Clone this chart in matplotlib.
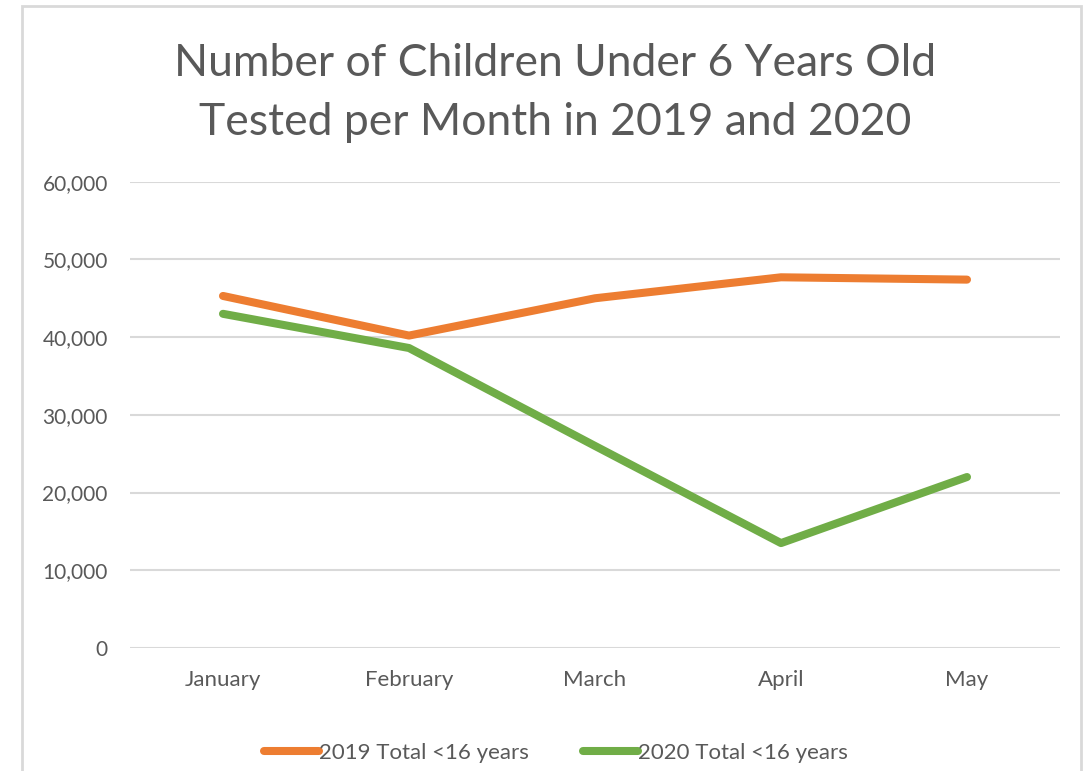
import matplotlib
matplotlib.use("Agg")
import matplotlib.pyplot as plt
from matplotlib.patches import Rectangle
from matplotlib.ticker import FuncFormatter, MultipleLocator

months = ["January", "February", "March", "April", "May"]
tested_2019 = [45300, 40200, 45000, 47700, 47400]
tested_2020 = [43000, 38600, 26000, 13500, 22000]
series_labels = ["2019 Total <16 years", "2020 Total <16 years"]
title_text = "Number of Children Under 6 Years Old\nTested per Month in 2019 and 2020"

ORANGE = "#ED7D31"
GREEN = "#70AD47"
TEXT = "#595959"
GRID = "#D9D9D9"

plt.rcParams["font.family"] = ["Lato", "DejaVu Sans"]

W, H = 1084, 771
fig = plt.figure(figsize=(W / 100, H / 100), dpi=100)
fig.patch.set_facecolor("white")

# chart-area frame (bottom edge runs past the canvas)
fig.patches.append(Rectangle((22 / W, 1 - 780 / H), (1081 - 22) / W, (780 - 6) / H,
                             transform=fig.transFigure, fill=False,
                             edgecolor=GRID, linewidth=2, zorder=0))

ax = fig.add_axes([130 / W, 1 - 648 / H, (1060 - 130) / W, (648 - 181.7) / H])
x = list(range(len(months)))
lw = 5.8
ax.plot(x, tested_2019, color=ORANGE, lw=lw, solid_capstyle="round",
        solid_joinstyle="round", label=series_labels[0], zorder=3)
ax.plot(x, tested_2020, color=GREEN, lw=lw, solid_capstyle="round",
        solid_joinstyle="round", label=series_labels[1], zorder=3)

ax.set_xlim(-0.5, len(months) - 0.5)
ax.set_ylim(0, 60000)
ax.yaxis.set_major_locator(MultipleLocator(10000))
ax.yaxis.set_major_formatter(FuncFormatter(lambda v, p: f"{int(v):,}"))
ax.set_xticks(x)
ax.set_xticklabels(months)
ax.grid(axis="y", color=GRID, linewidth=1.5, zorder=0)
ax.set_axisbelow(True)
for s in ax.spines.values():
    s.set_visible(False)
ax.tick_params(axis="both", length=0, colors=TEXT)
ax.tick_params(axis="y", pad=16, labelsize=15)
ax.tick_params(axis="x", pad=16, labelsize=16)

fig.text(0.512, 1 - 93 / H, title_text, ha="center", va="center",
         fontsize=32, color=TEXT, linespacing=1.55)

fig.legend(loc="center", bbox_to_anchor=(556 / W, 1 - 753 / H), ncol=2,
           frameon=False, fontsize=16, labelcolor=TEXT, handlelength=2.5,
           handletextpad=0.0, columnspacing=2.4)

fig.savefig("out.png", dpi=100, facecolor="white")
